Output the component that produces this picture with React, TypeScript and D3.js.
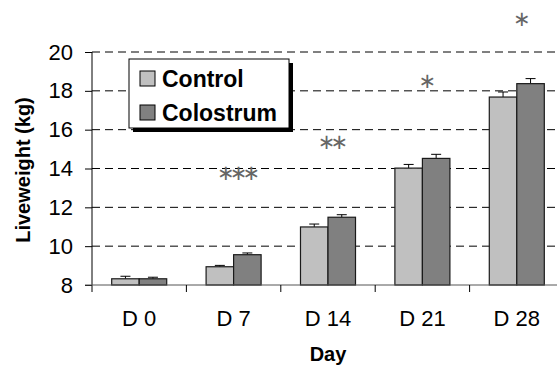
import React, { useRef, useEffect } from 'react';
import * as d3 from 'd3';

// Liveweight by day, mean and SE
const days = ['D 0', 'D 7', 'D 14', 'D 21', 'D 28'];
const groups = ['Control', 'Colostrum'];
const controlMean = [8.32, 8.94, 10.99, 14.02, 17.68];
const controlSE = [0.13, 0.07, 0.15, 0.19, 0.26];
const colostrumMean = [8.32, 9.56, 11.49, 14.52, 18.37];
const colostrumSE = [0.08, 0.09, 0.13, 0.21, 0.26];
const yTicks = [8, 10, 12, 14, 16, 18, 20];
// significance markers and the level (kg) where they sit
const sigMarks = ['', '***', '**', '*', '*'];
const sigLevel = [0, 13.65, 15.25, 18.4, 21.6];

const COLORS: Record<string, string> = {
  Control: '#C0C0C0',
  Colostrum: '#808080',
};

const W = 557;
const H = 365;
const FONT = '"Liberation Sans", Arial, sans-serif';

export default function App() {
  const svgRef = useRef<SVGSVGElement>(null);

  useEffect(() => {
    const svg = d3.select(svgRef.current);
    svg.selectAll('*').remove();

    const left = 92;
    const step = 94.4;
    const x = d3.scaleBand<string>()
      .domain(days)
      .range([left, left + step * days.length])
      .padding(0);

    const xInner = d3.scaleBand<string>()
      .domain(groups)
      .range([0, x.bandwidth()])
      .paddingInner(0)
      .paddingOuter(0.716);

    const y = d3.scaleLinear().domain([8, 20]).range([285, 52]);

    const rows = days.map((day, i) => ({
      day,
      values: [
        { key: 'Control', mean: controlMean[i], se: controlSE[i] },
        { key: 'Colostrum', mean: colostrumMean[i], se: colostrumSE[i] },
      ],
    }));

    // dashed gridlines
    svg.append('g')
      .selectAll('line')
      .data(yTicks.filter(t => t > 8))
      .enter()
      .append('line')
      .attr('x1', left)
      .attr('x2', W)
      .attr('y1', d => y(d))
      .attr('y2', d => y(d))
      .attr('stroke', '#000')
      .attr('stroke-width', 1)
      .attr('stroke-dasharray', '8,5');

    // y axis
    const yAxis = d3.axisLeft(y)
      .tickValues(yTicks)
      .tickSize(7)
      .tickPadding(12)
      .tickFormat(d3.format('d'));
    const ya = svg.append('g')
      .attr('transform', `translate(${left},0)`)
      .call(yAxis);
    ya.select('.domain').attr('stroke', '#000').attr('d', `M-0,${y(20)}V${y(8) + 7}`);
    ya.selectAll('.tick line').attr('stroke', '#000');
    ya.selectAll('text')
      .style('font-family', FONT)
      .style('font-size', '22px')
      .attr('fill', '#000');

    const groupsSel = svg.append('g')
      .selectAll('g')
      .data(rows)
      .enter()
      .append('g')
      .attr('transform', d => `translate(${x(d.day)},0)`);

    // error bars (upper only)
    groupsSel.selectAll('line.err')
      .data(d => d.values)
      .enter()
      .append('line')
      .attr('class', 'err')
      .attr('x1', d => xInner(d.key)! + xInner.bandwidth() / 2)
      .attr('x2', d => xInner(d.key)! + xInner.bandwidth() / 2)
      .attr('y1', d => y(d.mean))
      .attr('y2', d => y(d.mean + d.se))
      .attr('stroke', '#000')
      .attr('stroke-width', 1);

    groupsSel.selectAll('line.cap')
      .data(d => d.values)
      .enter()
      .append('line')
      .attr('class', 'cap')
      .attr('x1', d => xInner(d.key)! + xInner.bandwidth() / 2 - 5)
      .attr('x2', d => xInner(d.key)! + xInner.bandwidth() / 2 + 5)
      .attr('y1', d => y(d.mean + d.se))
      .attr('y2', d => y(d.mean + d.se))
      .attr('stroke', '#000')
      .attr('stroke-width', 1);

    groupsSel.selectAll('rect')
      .data(d => d.values)
      .enter()
      .append('rect')
      .attr('x', d => xInner(d.key)!)
      .attr('width', xInner.bandwidth())
      .attr('y', d => y(d.mean))
      .attr('height', d => y(8) - y(d.mean))
      .attr('fill', d => COLORS[d.key])
      .attr('stroke', '#1a1a1a')
      .attr('stroke-width', 1.2);

    // x axis
    const xAxis = d3.axisBottom(x).tickSize(0).tickPadding(25);
    const xa = svg.append('g')
      .attr('transform', `translate(0,${y(8)})`)
      .call(xAxis);
    xa.select('.domain').attr('stroke', '#555').attr('d', `M${left - 7},0H${W}`);
    xa.selectAll('text')
      .style('font-family', FONT)
      .style('font-size', '22px')
      .attr('fill', '#000');
    xa.selectAll('line.sep')
      .data(days.slice(1))
      .enter()
      .append('line')
      .attr('class', 'sep')
      .attr('x1', d => x(d)!)
      .attr('x2', d => x(d)!)
      .attr('y1', 0)
      .attr('y2', 7)
      .attr('stroke', '#000');

    // significance markers
    svg.append('g')
      .selectAll('text')
      .data(days.map((d, i) => ({ day: d, mark: sigMarks[i], level: sigLevel[i] })).filter(d => d.mark))
      .enter()
      .append('text')
      .attr('x', d => x(d.day)! + x.bandwidth() / 2 + 2.5)
      .attr('y', d => y(d.level))
      .attr('dy', '0.24em')
      .attr('text-anchor', 'middle')
      .style('font-family', '"DejaVu Sans", sans-serif')
      .style('font-size', '21px')
      .style('letter-spacing', '-4.8px')
      .attr('fill', '#666')
      .text(d => d.mark.replace(/\*/g, '\u2217'));

    // axis titles
    svg.append('text')
      .attr('x', (left + left + step * days.length) / 2)
      .attr('y', 361)
      .attr('text-anchor', 'middle')
      .style('font-family', FONT)
      .style('font-size', '20px')
      .style('font-weight', 'bold')
      .text('Day');

    svg.append('text')
      .attr('transform', `translate(23,170) rotate(-90)`)
      .attr('dy', '0.35em')
      .attr('text-anchor', 'middle')
      .style('font-family', FONT)
      .style('font-size', '20px')
      .style('font-weight', 'bold')
      .text('Liveweight (kg)');

    // legend with drop shadow
    const lg = svg.append('g').attr('transform', 'translate(129,59)');
    lg.append('rect')
      .attr('x', 4).attr('y', 4).attr('width', 160).attr('height', 69)
      .attr('fill', '#000');
    lg.append('rect')
      .attr('width', 160).attr('height', 69)
      .attr('fill', '#fff').attr('stroke', '#000').attr('stroke-width', 1);
    const items = lg.selectAll('g.item')
      .data(groups)
      .enter()
      .append('g')
      .attr('class', 'item')
      .attr('transform', (d, i) => `translate(11,${12 + i * 34})`);
    items.append('rect')
      .attr('width', 15).attr('height', 15)
      .attr('fill', d => COLORS[d])
      .attr('stroke', '#000').attr('stroke-width', 1);
    items.append('text')
      .attr('x', 22)
      .attr('y', 8)
      .attr('dy', '0.35em')
      .style('font-family', FONT)
      .style('font-size', '23px')
      .style('font-weight', 'bold')
      .text(d => d);
  }, []);

  return (
    <div style={{ position: 'fixed', left: 0, top: 0, background: '#fff' }}>
      <svg ref={svgRef} width={W} height={H} style={{ display: 'block' }} />
    </div>
  );
}
